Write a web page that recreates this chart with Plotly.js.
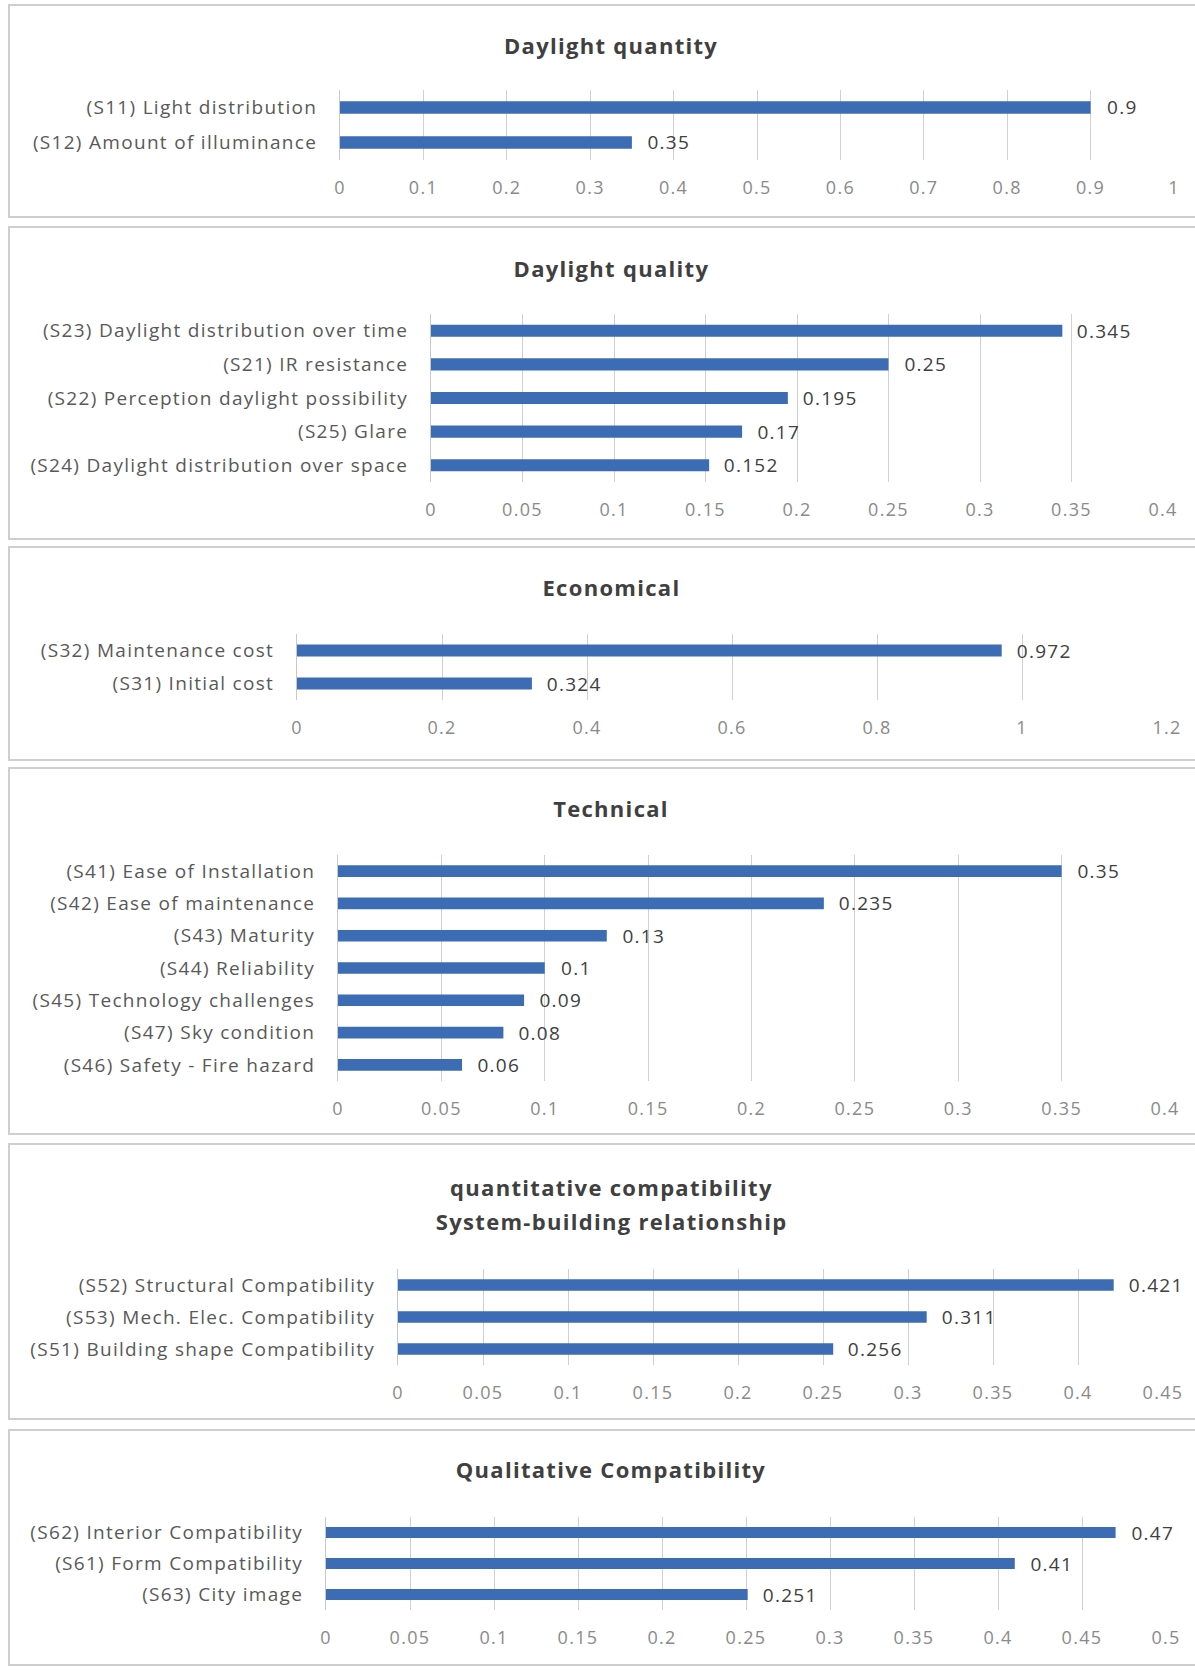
<!DOCTYPE html>
<html><head><meta charset="utf-8">
<script src="https://cdn.plot.ly/plotly-3.0.1.min.js"></script>
<style>
html,body{margin:0;padding:0;background:#fff}
.main-svg text{letter-spacing:1.3px}
</style>
</head><body><div id="chart" style="width:1195px;height:1674px"></div>
<script>
// ---- data ----
const titles = [
  ['Daylight quantity'],
  ['Daylight quality'],
  ['Economical'],
  ['Technical'],
  ['quantitative compatibility', 'System-building relationship'],
  ['Qualitative Compatibility']
];
const cats1 = ['(S11) Light distribution', '(S12) Amount of illuminance'];
const vals1 = [0.9, 0.35];
const cats2 = ['(S23) Daylight distribution over time', '(S21) IR resistance', '(S22) Perception daylight possibility', '(S25) Glare', '(S24) Daylight distribution over space'];
const vals2 = [0.345, 0.25, 0.195, 0.17, 0.152];
const cats3 = ['(S32) Maintenance cost', '(S31) Initial cost'];
const vals3 = [0.972, 0.324];
const cats4 = ['(S41) Ease of Installation', '(S42) Ease of maintenance', '(S43) Maturity', '(S44) Reliability', '(S45) Technology challenges', '(S47) Sky condition', '(S46) Safety - Fire hazard'];
const vals4 = [0.35, 0.235, 0.13, 0.1, 0.09, 0.08, 0.06];
const cats5 = ['(S52) Structural Compatibility', '(S53) Mech. Elec. Compatibility', '(S51) Building shape Compatibility'];
const vals5 = [0.421, 0.311, 0.256];
const cats6 = ['(S62) Interior Compatibility', '(S61) Form Compatibility', '(S63) City image'];
const vals6 = [0.47, 0.41, 0.251];
const axisMax = [1, 0.4, 1.2, 0.4, 0.45, 0.5];
const axisStep = [0.1, 0.05, 0.2, 0.05, 0.05, 0.05];

// ---- layout geometry (pixels) ----
const W = 1195, H = 1674;
const geo = [
  {top: 5,    bottom: 217,  x0: 340, x1: 1174, y0: 90,   y1: 160,  t: [45]},
  {top: 227,  bottom: 539,  x0: 431, x1: 1163, y0: 314,  y1: 482,  t: [268]},
  {top: 547,  bottom: 760,  x0: 297, x1: 1167, y0: 634,  y1: 700,  t: [587]},
  {top: 768,  bottom: 1134, x0: 338, x1: 1165, y0: 855,  y1: 1081, t: [808]},
  {top: 1144, bottom: 1419, x0: 398, x1: 1163, y0: 1269, y1: 1365, t: [1187, 1221]},
  {top: 1430, bottom: 1665, x0: 326, x1: 1166, y0: 1517, y1: 1610, t: [1469]}
];
const px = x => x / W, py = y => 1 - y / H;

const allCats = [cats1, cats2, cats3, cats4, cats5, cats6];
const allVals = [vals1, vals2, vals3, vals4, vals5, vals6];

const FONT = '"Open Sans", "DejaVu Sans", sans-serif';
const BAR = '#3c6db4';
const traces = [];
const layout = {
  width: W, height: H,
  margin: {l: 0, r: 0, t: 0, b: 0},
  paper_bgcolor: '#ffffff', plot_bgcolor: 'rgba(0,0,0,0)',
  showlegend: false, hovermode: false,
  font: {family: FONT},
  shapes: [], annotations: []
};

for (let i = 0; i < 6; i++) {
  const k = i === 0 ? '' : String(i + 1);
  const g = geo[i];
  const cats = allCats[i], vals = allVals[i];
  traces.push({
    type: 'bar', orientation: 'h', x: vals, y: cats,
    xaxis: 'x' + k, yaxis: 'y' + k,
    width: 0.36, marker: {color: BAR, line: {width: 0}},
    hoverinfo: 'skip'
  });
  layout['xaxis' + k] = {
    domain: [px(g.x0), px(g.x1)], anchor: 'y' + k,
    range: [0, axisMax[i]], tick0: 0, dtick: axisStep[i],
    showgrid: true, gridcolor: '#d0d0d0', gridwidth: 1,
    zeroline: false, showline: false, ticks: '',
    ticklabelstandoff: 15,
    tickfont: {family: FONT, size: 18, color: '#8a8a8a'},
    fixedrange: true
  };
  layout['yaxis' + k] = {
    domain: [py(g.y1), py(g.y0)], anchor: 'x' + k,
    type: 'category', range: [cats.length - 0.5, -0.5],
    showgrid: false, zeroline: false,
    showline: true, linecolor: '#c8c8c8', linewidth: 1,
    ticks: '', ticklabelstandoff: 18,
    tickfont: {family: FONT, size: 19, color: '#595959'},
    fixedrange: true
  };
  // panel border
  layout.shapes.push({
    type: 'rect', xref: 'paper', yref: 'paper',
    x0: px(9), x1: px(1215), y0: py(g.bottom), y1: py(g.top),
    line: {color: '#cfcfcf', width: 2}, fillcolor: 'rgba(0,0,0,0)', layer: 'below'
  });
  // title
  titles[i].forEach((line, j) => {
    layout.annotations.push({
      xref: 'paper', yref: 'paper', x: px(611), y: py(g.t[j]),
      xanchor: 'center', yanchor: 'middle', showarrow: false,
      text: '<b>' + line + '</b>',
      font: {family: FONT, size: 22, color: '#404040'}
    });
  });
  // value labels
  vals.forEach((v, j) => {
    layout.annotations.push({
      xref: 'x' + k, yref: 'y' + k, x: v, y: cats[j],
      xanchor: 'left', yanchor: 'middle', xshift: 16, showarrow: false,
      text: String(v),
      font: {family: FONT, size: 19, color: '#404040'}
    });
  });
}

Plotly.newPlot('chart', traces, layout, {staticPlot: true, displayModeBar: false});
</script>
</body></html>
